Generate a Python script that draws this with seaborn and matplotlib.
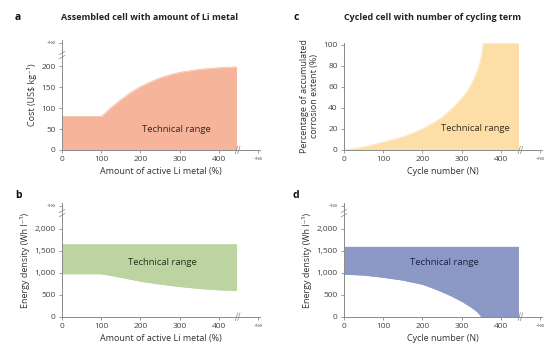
import numpy as np
import pandas as pd
import matplotlib
matplotlib.use("Agg")
import matplotlib.pyplot as plt
import seaborn as sns

sns.set_theme(style="ticks")
plt.rcParams['font.family'] = ['Open Sans', 'DejaVu Sans']

# ---------------- data ----------------
li_x = [0, 100, 110, 125, 150, 175, 200, 225, 250, 275, 300, 350, 400, 445]
cost_top = [80, 80, 88, 101, 120, 137, 151, 162, 172, 179, 185, 192, 196, 198]

li_x_b = [0, 100, 125, 150, 200, 250, 300, 350, 400, 445]
energy_li_bottom = [975, 975, 935, 895, 805, 740, 685, 640, 610, 595]
energy_li_top = 1660

cyc_x = [0, 25, 50, 75, 100, 125, 150, 175, 200, 225, 250, 275, 300, 315, 330, 340,
         347, 352, 355, 445]
corrosion = [0, 1.3, 3, 5, 7.5, 10, 12.5, 16, 20, 25, 31, 39, 49, 56, 66, 75,
             83, 92, 101, 101]

cyc_x_d = [0, 50, 100, 150, 200, 225, 250, 275, 300, 325, 340, 350, 445]
energy_cyc_bottom = [965, 945, 895, 830, 735, 655, 565, 465, 350, 210, 110, 0, 0]
energy_cyc_top = 1600

x_ticks = [0, 100, 200, 300, 400, 500]
x_ticklabels = ["0", "100", "200", "300", "400", "+∞"]
cost_ticks = [0, 50, 100, 150, 200, 255]
cost_ticklabels = ["0", "50", "100", "150", "200", "+∞"]
energy_ticks = [0, 500, 1000, 1500, 2000, 2520]
energy_ticklabels = ["0", "500", "1,000", "1,500", "2,000", "+∞"]
corr_ticks = [0, 20, 40, 60, 80, 100]

colors = {"a": "#F6B49B", "b": "#BDD3A1", "c": "#FCDEA6", "d": "#8C99C7"}
text_colors = {"a": "#3b2620", "b": "#26321a", "c": "#3a2e1a", "d": "#1b2140"}

W, H = 556, 360
fig = plt.figure(figsize=(W / 100, H / 100), dpi=100)

def fr(px_left, px_bottom, w, h):
    return [px_left / W, (H - px_bottom) / H, w / W, h / H]

ax_a = fig.add_axes(fr(62, 150, 198, 110))
ax_b = fig.add_axes(fr(62, 316.7, 198, 113.5))
ax_c = fig.add_axes(fr(344, 150, 198, 107))
ax_d = fig.add_axes(fr(344, 316.7, 198, 113.5))

spine_c = "#8a8a8a"
tick_c = "#444444"

def style(ax, yticks, yticklabels, ylim, xlabel, ylabel):
    ax.set_xlim(0, 505)
    ax.set_ylim(*ylim)
    ax.set_xticks(x_ticks)
    ax.set_xticklabels(x_ticklabels)
    ax.set_yticks(yticks)
    ax.set_yticklabels(yticklabels)
    for s in ["top", "right"]:
        ax.spines[s].set_visible(False)
    for s in ["left", "bottom"]:
        ax.spines[s].set_color(spine_c)
        ax.spines[s].set_linewidth(0.7)
    ax.tick_params(axis="both", length=2.5, width=0.6, color=spine_c,
                   labelsize=6.0, labelcolor=tick_c, pad=2)
    for lab in list(ax.get_xticklabels()) + list(ax.get_yticklabels()):
        if lab.get_text() == "+∞":
            lab.set_fontsize(5.2)
            lab.set_color("#666666")
    ax.set_xlabel(xlabel, fontsize=6.5, color="#333333", labelpad=3)
    ax.set_ylabel(ylabel, fontsize=6.5, color="#333333", labelpad=3)
    ax.set_facecolor("white")

def xbreak(ax, xpos):
    trans = ax.get_xaxis_transform()
    for dx in (-3, 3):
        ax.plot([xpos + dx - 3, xpos + dx + 3], [-0.035, 0.035], transform=trans,
                color=spine_c, lw=0.5, clip_on=False)

def ybreak(ax, ypos):
    trans = ax.get_yaxis_transform()
    ylo, yhi = ax.get_ylim()
    d = (yhi - ylo) * 0.03
    for dy in (-d / 1.6, d / 1.6):
        ax.plot([-0.015, 0.015], [ypos + dy - d / 2, ypos + dy + d / 2], transform=trans,
                color=spine_c, lw=0.5, clip_on=False)

# panel a
df_a = pd.DataFrame({"x": li_x, "y": cost_top})
ax_a.fill_between(df_a["x"], 0, df_a["y"], color=colors["a"], lw=0)
sns.lineplot(data=df_a, x="x", y="y", ax=ax_a, color=colors["a"], lw=0.5)
style(ax_a, cost_ticks, cost_ticklabels, (0, 262), "Amount of active Li metal (%)",
      "Cost (US\\$ kg⁻¹)")
ax_a.text(291, 50, "Technical range", ha="center", va="center", fontsize=6.8,
          color=text_colors["a"])
xbreak(ax_a, 448)
ybreak(ax_a, 226)

# panel b
df_b = pd.DataFrame({"x": li_x_b, "y": energy_li_bottom})
ax_b.fill_between(df_b["x"], df_b["y"], energy_li_top, color=colors["b"], lw=0)
sns.lineplot(data=df_b, x="x", y="y", ax=ax_b, color=colors["b"], lw=0.5)
style(ax_b, energy_ticks, energy_ticklabels, (0, 2580), "Amount of active Li metal (%)",
      "Energy density (Wh l⁻¹)")
ax_b.text(255, 1230, "Technical range", ha="center", va="center", fontsize=6.8,
          color=text_colors["b"])
xbreak(ax_b, 448)
ybreak(ax_b, 2355)

# panel c
df_c = pd.DataFrame({"x": cyc_x, "y": corrosion})
ax_c.fill_between(df_c["x"], 0, df_c["y"], color=colors["c"], lw=0)
sns.lineplot(data=df_c, x="x", y="y", ax=ax_c, color=colors["c"], lw=0.5)
style(ax_c, corr_ticks, [str(t) for t in corr_ticks], (0, 101.5), "Cycle number (N)",
      "Percentage of accumulated\ncorrosion extent (%)")
ax_c.text(336, 20, "Technical range", ha="center", va="center", fontsize=6.8,
          color=text_colors["c"])
xbreak(ax_c, 450)

# panel d
df_d = pd.DataFrame({"x": cyc_x_d, "y": energy_cyc_bottom})
ax_d.fill_between(df_d["x"], df_d["y"], energy_cyc_top, color=colors["d"], lw=0)
sns.lineplot(data=df_d, x="x", y="y", ax=ax_d, color=colors["d"], lw=0.5)
style(ax_d, energy_ticks, energy_ticklabels, (0, 2580), "Cycle number (N)",
      "Energy density (Wh l⁻¹)")
ax_d.text(257, 1230, "Technical range", ha="center", va="center", fontsize=6.8,
          color=text_colors["d"])
xbreak(ax_d, 450)
ybreak(ax_d, 2355)

# titles and panel letters
fig.text(150 / W, 1 - 18 / H, "Assembled cell with amount of Li metal", ha="center",
         va="center", fontsize=6.5, fontweight="bold", color="#222222")
fig.text(432 / W, 1 - 18 / H, "Cycled cell with number of cycling term", ha="center",
         va="center", fontsize=6.5, fontweight="bold", color="#222222")
for letter, (px, py) in {"a": (18, 18), "c": (296, 18), "b": (18, 195), "d": (296, 195)}.items():
    fig.text(px / W, 1 - py / H, letter, ha="center", va="center", fontsize=7.5,
             fontweight="bold", color="#111111")

fig.savefig("out.png", dpi=100, facecolor="white")
